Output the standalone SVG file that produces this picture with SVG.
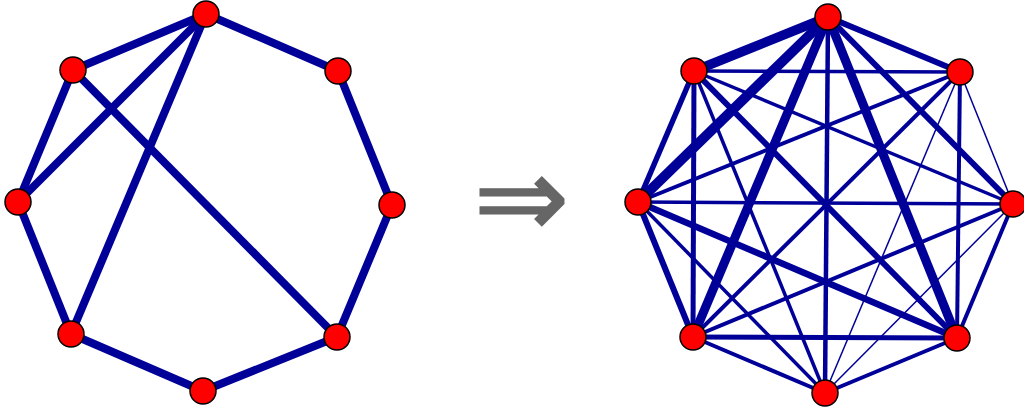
<svg xmlns="http://www.w3.org/2000/svg" width="1024" height="408" viewBox="0 0 1024 408">
<style>
.e{stroke:#000099;fill:none;stroke-linecap:butt}
.n{fill:#ff0000;stroke:#000000;stroke-width:1.5}
.arr{font-family:"DejaVu Sans",sans-serif;fill:#666666}
</style>
<rect width="1024" height="408" fill="#ffffff"/>
<g id="connectors">
<g id="left-edges" class="e" stroke-width="8">
<line x1="206" y1="14" x2="338" y2="71"/>
<line x1="338" y1="71" x2="392" y2="205"/>
<line x1="392" y1="205" x2="337" y2="337"/>
<line x1="337" y1="337" x2="203" y2="391"/>
<line x1="203" y1="391" x2="71" y2="334"/>
<line x1="71" y1="334" x2="18" y2="202"/>
<line x1="18" y1="202" x2="73" y2="70"/>
<line x1="73" y1="70" x2="206" y2="14"/>
<line x1="206" y1="14" x2="18" y2="202"/>
<line x1="206" y1="14" x2="71" y2="334"/>
<line x1="73" y1="70" x2="337" y2="337"/>
</g>
<g id="right-edges" class="e">
<line x1="828" y1="17" x2="694" y2="71" stroke-width="9.5"/>
<line x1="828" y1="17" x2="638" y2="202" stroke-width="10"/>
<line x1="828" y1="17" x2="693" y2="337" stroke-width="9"/>
<line x1="828" y1="17" x2="825" y2="393" stroke-width="4.5"/>
<line x1="828" y1="17" x2="957" y2="338" stroke-width="9"/>
<line x1="828" y1="17" x2="1013" y2="204" stroke-width="6"/>
<line x1="828" y1="17" x2="960" y2="72" stroke-width="6"/>
<line x1="694" y1="71" x2="960" y2="72" stroke-width="3.5"/>
<line x1="694" y1="71" x2="638" y2="202" stroke-width="5.5"/>
<line x1="694" y1="71" x2="693" y2="337" stroke-width="5"/>
<line x1="694" y1="71" x2="825" y2="393" stroke-width="3.5"/>
<line x1="694" y1="71" x2="957" y2="338" stroke-width="6"/>
<line x1="694" y1="71" x2="1013" y2="204" stroke-width="3.5"/>
<line x1="960" y1="72" x2="638" y2="202" stroke-width="4"/>
<line x1="960" y1="72" x2="693" y2="337" stroke-width="4"/>
<line x1="960" y1="72" x2="825" y2="393" stroke-width="1.5"/>
<line x1="960" y1="72" x2="957" y2="338" stroke-width="4"/>
<line x1="960" y1="72" x2="1013" y2="204" stroke-width="1.5"/>
<line x1="638" y1="202" x2="1013" y2="204" stroke-width="3.5"/>
<line x1="638" y1="202" x2="693" y2="337" stroke-width="6"/>
<line x1="638" y1="202" x2="825" y2="393" stroke-width="3.5"/>
<line x1="638" y1="202" x2="957" y2="338" stroke-width="6.5"/>
<line x1="693" y1="337" x2="1013" y2="204" stroke-width="4"/>
<line x1="693" y1="337" x2="825" y2="393" stroke-width="4"/>
<line x1="693" y1="337" x2="957" y2="338" stroke-width="5"/>
<line x1="825" y1="393" x2="1013" y2="204" stroke-width="1.5"/>
<line x1="825" y1="393" x2="957" y2="338" stroke-width="4"/>
<line x1="957" y1="338" x2="1013" y2="204" stroke-width="4"/>
</g>
</g>
<g id="left-nodes">
<g id="L0"><circle class="n" cx="206" cy="14" r="13"/></g>
<g id="L1"><circle class="n" cx="338" cy="71" r="13"/></g>
<g id="L2"><circle class="n" cx="392" cy="205" r="13"/></g>
<g id="L3"><circle class="n" cx="337" cy="337" r="13"/></g>
<g id="L4"><circle class="n" cx="203" cy="391" r="13"/></g>
<g id="L5"><circle class="n" cx="71" cy="334" r="13"/></g>
<g id="L6"><circle class="n" cx="18" cy="202" r="13"/></g>
<g id="L7"><circle class="n" cx="73" cy="70" r="13"/></g>
</g>
<g id="right-nodes">
<g id="R0"><circle class="n" cx="828" cy="17" r="13"/></g>
<g id="R1"><circle class="n" cx="960" cy="72" r="13"/></g>
<g id="R2"><circle class="n" cx="1013" cy="204" r="13"/></g>
<g id="R3"><circle class="n" cx="957" cy="338" r="13"/></g>
<g id="R4"><circle class="n" cx="825" cy="393" r="13"/></g>
<g id="R5"><circle class="n" cx="693" cy="337" r="13"/></g>
<g id="R6"><circle class="n" cx="638" cy="202" r="13"/></g>
<g id="R7"><circle class="n" cx="694" cy="71" r="13"/></g>
</g>
<g id="arrow">
<text class="arr" x="521.5" y="237" font-size="114" text-anchor="middle" stroke="#666666" stroke-width="1.5">⇒</text>
</g>
</svg>
